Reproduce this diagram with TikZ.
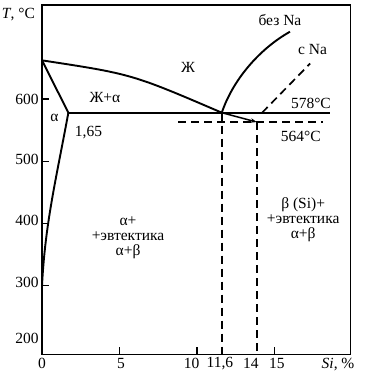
\documentclass[tikz,border=0pt]{standalone}
\usepackage{fontspec}
\setmainfont{Liberation Serif}
\usetikzlibrary{arrows.meta}

\begin{document}
\begin{tikzpicture}[x=15.5pt,y=0.623pt,font=\fontsize{15.5}{15}\selectfont,
  curve/.style={line width=1.9pt},
  dashline/.style={line width=1.7pt,dash pattern=on 8pt off 5pt},
  lbl/.style={inner sep=0pt,align=center}]
  \useasboundingbox (-2.71,150.56) rectangle (20.84,758.9);
  % axes
  \draw[line width=1.3pt] (0,190) rectangle (19.9,751);
  \foreach \t/\yl in {600/600,500/503.7,400/404.8,300/305} {
    \draw[line width=1.1pt] (0,\t) -- (0.45,\t);
    \node[lbl,anchor=east] (ty\t) at (-0.2,\yl) {\t};
  }
  \node[lbl,anchor=east] (ty200) at (-0.2,215) {200};
  \foreach \x in {5,10,15} \draw[line width=1.1pt] (\x,190) -- (\x,202);
  \foreach \xl/\l [count=\i] in {0/0,5.1/5,9.65/10,11.48/{11,6},13.48/14,15.16/15} {
    \node[lbl] (tx\i) at (\xl,176) {\l};
  }
  \node[lbl] (xname) at (19.1,173) {\textit{Si}, \%};
  \node[lbl] (yname) at (-1.52,735) {\textit{T}, °C};

  % key points
  \coordinate (al) at (0,662);
  \coordinate (sol) at (1.7,578);
  \coordinate (eut) at (11.6,578);
  \coordinate (eutna) at (13.85,563);
  \coordinate (siend) at (16,708);

  % liquidus, solidus, solvus
  \draw[curve] (al) .. controls (5.8,640) .. (eut);
  \draw[line width=1.5pt,-{Stealth[length=6pt,width=4.5pt]}] (eut) -- (eutna);
  \draw[curve] (al) -- (sol);
  \draw[curve] (sol) .. controls (0.9,470) and (0.2,400) .. (0,300);
  \draw[curve] (eut) .. controls (12.3,630) and (14,680) .. (siend);
  \draw[curve] (sol) -- (18.6,578);
  % modified (with Na)
  \draw[dashline] (14.2,578) -- (17.3,657);
  \draw[dashline] (8.8,563) -- (18.1,563);
  \draw[dashline] (eut) -- (11.6,190);
  \draw[dashline] (eutna) -- (13.85,190);

  % phase labels
  \node[lbl] (liq) at (9.42,650) {Ж};
  \node[lbl] (liqa) at (4.06,602) {Ж+α};
  \node[lbl] (alpha) at (0.8,569) {α};
  \node[lbl] (solx) at (3.0,546) {1,65};
  \node[lbl] (t578) at (17.35,593) {578°C};
  \node[lbl] (t564) at (16.7,539.5) {564°C};
  \node[lbl] (nona) at (15.35,727) {без Na};
  \node[lbl] (withna) at (17.45,679) {с Na};
  \node[lbl] (hypo) at (5.55,377) {α+\\+эвтектика\\α+β};
  \node[lbl] (hyper) at (16.85,406) {β (Si)+\\+эвтектика\\α+β};
\end{tikzpicture}
\end{document}
